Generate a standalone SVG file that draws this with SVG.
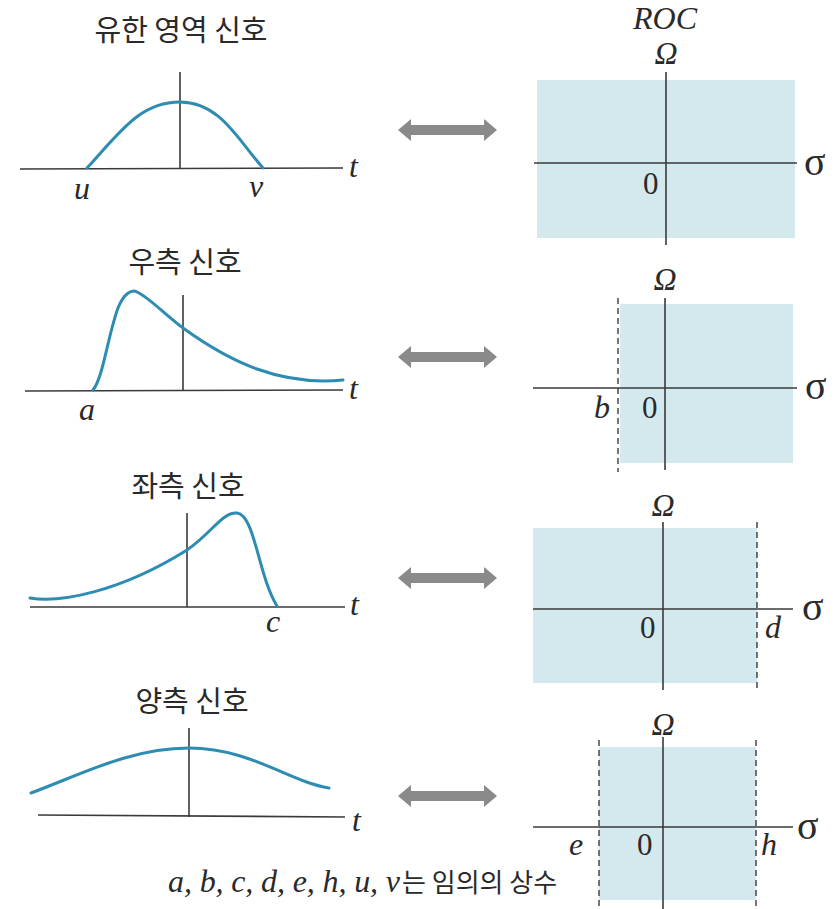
<svg xmlns="http://www.w3.org/2000/svg" width="835" height="909" viewBox="0 0 835 909">
<style>
.title{font-family:"Noto Sans CJK KR","Noto Sans",sans-serif;font-size:29px;fill:#2a2a2a;text-anchor:middle}
.ko{font-family:"Noto Sans CJK KR","Noto Sans",sans-serif;font-size:26px;fill:#2a2a2a}
.m{font-family:"Liberation Serif",serif;font-style:italic;font-size:32px;fill:#2a2a2a}
.n{font-family:"Liberation Serif",serif;font-size:31px;fill:#2a2a2a}
.sig{font-family:"Liberation Serif",serif;font-size:40px;fill:#2a2a2a}
.ax{stroke:#3a3a3a;stroke-width:1.6;fill:none}
.dash{stroke:#3a3a3a;stroke-width:1.4;stroke-dasharray:6 4;fill:none}
.curve{stroke:#2e8cb2;stroke-width:3;fill:none;stroke-linecap:round}
.roc{fill:#d3e9ee}
.arr{fill:#8a8a8a}
</style>
<defs>
<path id="dbl" d="M0,0 L13,-11 L13,-5 L86,-5 L86,-11 L99,0 L86,11 L86,5 L13,5 L13,11 Z"/>
</defs>
<rect width="835" height="909" fill="#ffffff"/>

<g id="signal1">
<text class="title" x="181" y="41">유한 영역 신호</text>
<line class="ax" x1="20" y1="169" x2="343" y2="168"/>
<line class="ax" x1="180" y1="72" x2="180" y2="169"/>
<path class="curve" d="M87,168 C120,132 140,102 180,102 C220,102 238,140 263,168"/>
<text class="m" x="349" y="177">t</text>
<text class="m" x="74" y="199">u</text>
<text class="m" x="249" y="197">v</text>
</g>

<g id="signal2">
<text class="title" x="185" y="273">우측 신호</text>
<line class="ax" x1="25" y1="391" x2="343" y2="390"/>
<line class="ax" x1="183" y1="295" x2="183" y2="391"/>
<path class="curve" d="M93,390 C103,378 108,335 118,308 C124,293 132,289 137,292 C150,298 165,315 183,328 C230,362 280,386 343,380"/>
<text class="m" x="349" y="399">t</text>
<text class="m" x="79" y="420">a</text>
</g>

<g id="signal3">
<text class="title" x="188" y="497">좌측 신호</text>
<line class="ax" x1="30" y1="607" x2="345" y2="607"/>
<line class="ax" x1="187" y1="513" x2="187" y2="607"/>
<path class="curve" d="M30,598 C60,603 120,592 187,550 C212,533 222,512 237,513 C255,515 258,575 277,606"/>
<text class="m" x="350" y="615">t</text>
<text class="m" x="266" y="632">c</text>
</g>

<g id="signal4">
<text class="title" x="192" y="712">양측 신호</text>
<line class="ax" x1="38" y1="815" x2="345" y2="817"/>
<line class="ax" x1="189" y1="728" x2="189" y2="817"/>
<path class="curve" d="M31,793 C80,775 130,748 189,748 C250,748 290,782 329,788"/>
<text class="m" x="352" y="831">t</text>
</g>

<g id="connectors">
<use href="#dbl" class="arr" x="398" y="130"/>
<use href="#dbl" class="arr" x="398" y="357"/>
<use href="#dbl" class="arr" x="398" y="578"/>
<use href="#dbl" class="arr" x="398" y="796"/>
</g>

<g id="roc1">
<text class="m" x="665" y="29" text-anchor="middle">ROC</text>
<rect class="roc" x="537" y="80" width="258" height="158"/>
<line class="ax" x1="534" y1="163" x2="797" y2="163"/>
<line class="ax" x1="666" y1="72" x2="666" y2="245"/>
<text class="m" x="666" y="64" text-anchor="middle">Ω</text>
<text class="n" x="643" y="194">0</text>
<text class="sig" x="804" y="175">σ</text>
</g>

<g id="roc2">
<rect class="roc" x="620" y="304" width="173" height="159"/>
<line class="dash" x1="618" y1="298" x2="618" y2="472"/>
<line class="ax" x1="533" y1="388" x2="797" y2="388"/>
<line class="ax" x1="665" y1="298" x2="665" y2="470"/>
<text class="m" x="665" y="290" text-anchor="middle">Ω</text>
<text class="m" x="594" y="418">b</text>
<text class="n" x="642" y="418">0</text>
<text class="sig" x="805" y="399">σ</text>
</g>

<g id="roc3">
<rect class="roc" x="533" y="528" width="224" height="155"/>
<line class="dash" x1="757" y1="522" x2="757" y2="692"/>
<line class="ax" x1="533" y1="609" x2="793" y2="609"/>
<line class="ax" x1="663" y1="522" x2="663" y2="690"/>
<text class="m" x="663" y="516" text-anchor="middle">Ω</text>
<text class="m" x="765" y="638">d</text>
<text class="n" x="640" y="638">0</text>
<text class="sig" x="802" y="620">σ</text>
</g>

<g id="roc4">
<rect class="roc" x="599" y="747" width="157" height="153"/>
<line class="dash" x1="599" y1="740" x2="599" y2="909"/>
<line class="dash" x1="756" y1="740" x2="756" y2="909"/>
<line class="ax" x1="533" y1="827" x2="793" y2="827"/>
<line class="ax" x1="663" y1="737" x2="663" y2="909"/>
<text class="m" x="663" y="735" text-anchor="middle">Ω</text>
<text class="m" x="569" y="855">e</text>
<text class="n" x="637" y="855">0</text>
<text class="m" x="761" y="855">h</text>
<text class="sig" x="797" y="839">σ</text>
</g>

<g id="footer">
<text class="m" x="168" y="892" textLength="232" lengthAdjust="spacing">a, b, c, d, e, h, u, v</text>
<text class="ko" x="402" y="892">는 임의의 상수</text>
</g>
</svg>
